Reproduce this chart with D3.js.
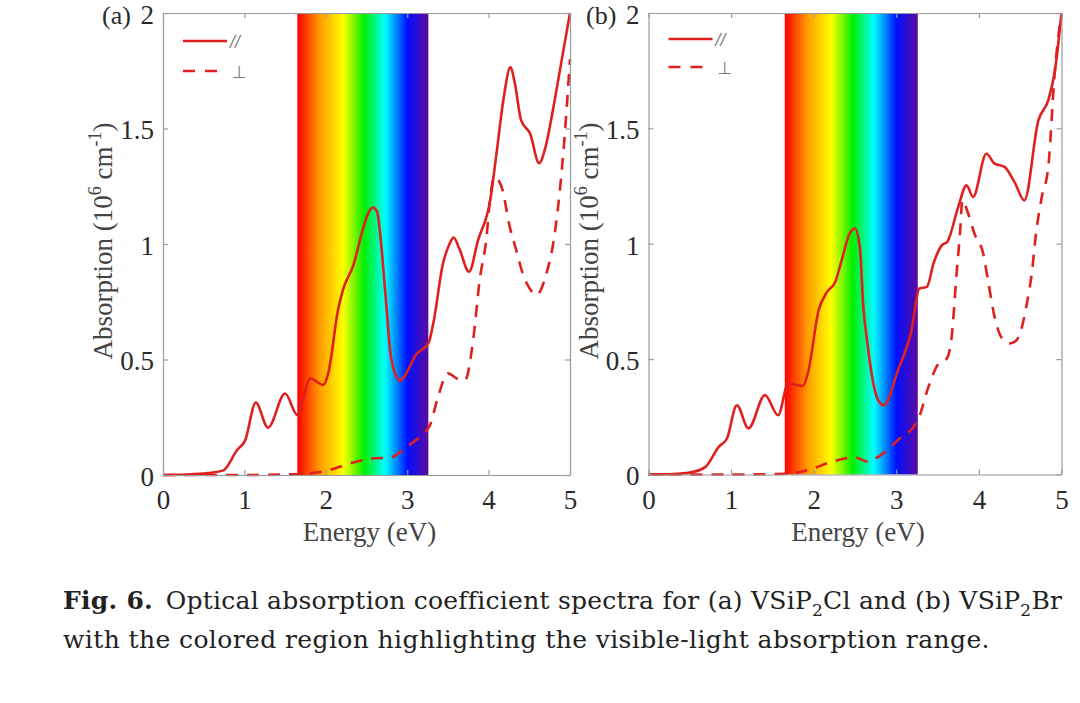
<!DOCTYPE html>
<html>
<head>
<meta charset="utf-8">
<script src="https://cdn.jsdelivr.net/npm/d3@7"></script>
<style>
  body { margin: 0; background: #fff; }
  svg { display: block; }
</style>
</head>
<body>
<svg id="fig" width="1080" height="703"></svg>
<script>
// ---- data ----
const xTicks = [0, 1, 2, 3, 4, 5];
const yTicks = [0, 0.5, 1, 1.5, 2];
const visibleRange = [1.65, 3.26];

// (a) VSiP2Cl
const energyParA = [0, 0.3, 0.55, 0.74, 0.91, 1.01, 1.14, 1.29, 1.50, 1.65, 1.81, 1.97, 2.03, 2.15, 2.21, 2.34, 2.46, 2.53, 2.58, 2.63, 2.68, 2.74, 2.79, 2.85, 2.91, 3.12, 3.26, 3.32, 3.44, 3.52, 3.57, 3.64, 3.76, 3.87, 4.02, 4.10, 4.18, 4.27, 4.32, 4.40, 4.51, 4.62, 4.70, 4.79, 4.90, 5.0];
const absParA    = [0, 0.002, 0.008, 0.02, 0.108, 0.15, 0.314, 0.205, 0.353, 0.26, 0.418, 0.39, 0.44, 0.714, 0.80, 0.91, 1.07, 1.14, 1.158, 1.14, 1.0, 0.75, 0.54, 0.44, 0.41, 0.526, 0.57, 0.656, 0.916, 1.0, 1.028, 0.98, 0.88, 1.016, 1.19, 1.40, 1.62, 1.766, 1.70, 1.535, 1.478, 1.35, 1.42, 1.58, 1.80, 2.0];
const energyPerpA = [0, 0.5, 1.0, 1.6, 1.97, 2.30, 2.58, 2.79, 2.99, 3.20, 3.28, 3.38, 3.50, 3.61, 3.71, 3.81, 3.89, 3.97, 4.02, 4.07, 4.16, 4.26, 4.34, 4.42, 4.50, 4.59, 4.71, 4.80, 4.92, 5.0];
const absPerpA    = [0, 0, 0, 0.003, 0.015, 0.05, 0.072, 0.075, 0.122, 0.18, 0.216, 0.34, 0.44, 0.418, 0.41, 0.584, 0.843, 1.016, 1.2, 1.29, 1.247, 1.074, 0.973, 0.872, 0.81, 0.78, 0.872, 1.016, 1.405, 1.80];

// (b) VSiP2Br
const energyParB = [0, 0.3, 0.5, 0.69, 0.85, 0.95, 1.07, 1.21, 1.41, 1.57, 1.69, 1.87, 1.93, 2.06, 2.16, 2.26, 2.34, 2.43, 2.50, 2.56, 2.60, 2.65, 2.70, 2.77, 2.85, 3.02, 3.18, 3.28, 3.37, 3.45, 3.55, 3.62, 3.75, 3.85, 3.93, 4.09, 4.19, 4.31, 4.43, 4.55, 4.72, 4.84, 4.92, 5.0];
const absParB    = [0, 0.002, 0.008, 0.033, 0.12, 0.156, 0.30, 0.20, 0.344, 0.257, 0.394, 0.384, 0.44, 0.712, 0.79, 0.834, 0.93, 1.04, 1.066, 0.98, 0.73, 0.57, 0.44, 0.33, 0.30, 0.452, 0.618, 0.806, 0.813, 0.914, 0.993, 1.01, 1.16, 1.253, 1.203, 1.39, 1.347, 1.333, 1.268, 1.188, 1.535, 1.622, 1.75, 2.0];
const energyPerpB = [0, 0.5, 1.0, 1.65, 1.93, 2.22, 2.50, 2.66, 2.78, 3.02, 3.26, 3.39, 3.51, 3.61, 3.67, 3.73, 3.77, 3.80, 3.87, 3.95, 4.05, 4.12, 4.19, 4.27, 4.37, 4.45, 4.51, 4.58, 4.64, 4.69, 4.76, 4.84, 4.92, 4.98];
const absPerpB    = [0, 0, 0, 0.003, 0.019, 0.055, 0.074, 0.055, 0.076, 0.149, 0.235, 0.38, 0.48, 0.502, 0.596, 0.871, 1.04, 1.189, 1.131, 1.04, 0.96, 0.82, 0.683, 0.596, 0.568, 0.58, 0.625, 0.74, 0.871, 1.04, 1.2, 1.333, 1.752, 1.95];

const lineColor = '#e0201e';
const axisColor = '#9a9a9a';
const textColor = '#2a2a2a';
const serif = '"Liberation Serif", "Times New Roman", serif';

const svg = d3.select('#fig');

// rainbow gradient for the visible window
const defs = svg.append('defs');
const grad = defs.append('linearGradient')
    .attr('id', 'rainbow')
    .attr('x1', '0%').attr('x2', '100%')
    .attr('y1', '0%').attr('y2', '0%');
[
  [0, '#ff0000'], [0.17, '#ff9a00'], [0.35, '#ffff00'], [0.51, '#00f000'],
  [0.67, '#00ffff'], [0.84, '#0010ff'], [1, '#5c0aa0']
].forEach(([o, c]) => grad.append('stop').attr('offset', o).attr('stop-color', c));

function drawPanel(cfg) {
    const x = d3.scaleLinear().domain([0, 5]).range([cfg.left, cfg.right]);
    const y = d3.scaleLinear().domain([0, 2]).range([cfg.bottom, cfg.top]);
    const g = svg.append('g');

    // visible-light band
    g.append('rect')
        .attr('x', x(visibleRange[0]))
        .attr('y', y(2))
        .attr('width', x(visibleRange[1]) - x(visibleRange[0]))
        .attr('height', y(0) - y(2))
        .attr('fill', 'url(#rainbow)');

    const line = d3.line()
        .x(d => x(d[0]))
        .y(d => y(d[1]))
        .curve(d3.curveMonotoneX);

    g.append('path')
        .datum(d3.zip(cfg.ePerp, cfg.aPerp))
        .attr('d', line)
        .attr('fill', 'none')
        .attr('stroke', lineColor)
        .attr('stroke-width', 2.6)
        .attr('stroke-dasharray', '12,9');

    g.append('path')
        .datum(d3.zip(cfg.ePar, cfg.aPar))
        .attr('d', line)
        .attr('fill', 'none')
        .attr('stroke', lineColor)
        .attr('stroke-width', 2.6);

    // box axes, ticks pointing in on all four sides
    const ax = (gen, tx, ty) => g.append('g')
        .attr('transform', `translate(${tx},${ty})`)
        .call(gen);

    const bottom = ax(d3.axisBottom(x).tickValues(xTicks).tickSizeInner(-5).tickSizeOuter(0).tickPadding(15).tickFormat(d3.format('d')), 0, cfg.bottom);
    const top = ax(d3.axisTop(x).tickValues(xTicks).tickSizeInner(-5).tickSizeOuter(0).tickFormat(''), 0, cfg.top);
    const left = ax(d3.axisLeft(y).tickValues(yTicks).tickSizeInner(-5).tickSizeOuter(0).tickPadding(9).tickFormat(d => d === 0 ? '0' : d3.format('~g')(d)), cfg.left, 0);
    const right = ax(d3.axisRight(y).tickValues(yTicks).tickSizeInner(-5).tickSizeOuter(0).tickFormat(''), cfg.right, 0);

    [bottom, top, left, right].forEach(a => {
        a.select('.domain').attr('stroke', axisColor).attr('stroke-width', 1.2);
        a.selectAll('.tick line').attr('stroke', axisColor).attr('stroke-width', 1.2);
        a.selectAll('.tick text')
            .attr('fill', textColor)
            .style('font-family', serif)
            .style('font-size', '27px');
    });
    left.selectAll('.tick text').attr('dy', '0.38em');

    // panel tag
    g.append('text')
        .attr('x', cfg.tagX)
        .attr('y', cfg.top + 11)
        .style('font-family', serif)
        .style('font-size', '26px')
        .attr('fill', textColor)
        .text(cfg.tag);

    // x label
    g.append('text')
        .attr('x', (cfg.left + cfg.right) / 2 + 3)
        .attr('y', 541)
        .attr('text-anchor', 'middle')
        .style('font-family', serif)
        .style('font-size', '27px')
        .attr('fill', '#444')
        .text('Energy (eV)');

    // y label with superscripts
    const yl = g.append('text')
        .attr('transform', `translate(${cfg.ylabX},241) rotate(-90)`)
        .attr('text-anchor', 'middle')
        .style('font-family', serif)
        .style('font-size', '27px')
        .attr('fill', '#444');
    yl.append('tspan').text('Absorption (10');
    yl.append('tspan').attr('dy', -11).style('font-size', '18px').text('6');
    yl.append('tspan').attr('dy', 11).text(' cm');
    yl.append('tspan').attr('dy', -11).style('font-size', '18px').text('-1');
    yl.append('tspan').attr('dy', 11).text(')');

    // legend
    const lg = g.append('g').attr('transform', `translate(${cfg.left + 20},0)`);
    lg.append('line').attr('x1', 0).attr('x2', 44).attr('y1', cfg.legY1).attr('y2', cfg.legY1)
        .attr('stroke', lineColor).attr('stroke-width', 2.6);
    lg.append('line').attr('x1', 0).attr('x2', 44).attr('y1', cfg.legY2).attr('y2', cfg.legY2)
        .attr('stroke', lineColor).attr('stroke-width', 2.6).attr('stroke-dasharray', '12,10');
    lg.append('text').attr('x', 47).attr('y', cfg.legY1 + 6)
        .style('font-family', '"DejaVu Sans", sans-serif').style('font-size', '15px')
        .style('font-style', 'italic').attr('fill', '#777').text('//');
    lg.append('text').attr('x', 49).attr('y', cfg.legY2 + 7)
        .style('font-family', '"DejaVu Sans", sans-serif').style('font-size', '17px')
        .attr('fill', '#777').text('\u22A5');
}

drawPanel({
    left: 163, right: 570, top: 13, bottom: 475,
    tag: '(a)', tagX: 102, ylabX: 112, legY1: 41, legY2: 71,
    ePar: energyParA, aPar: absParA, ePerp: energyPerpA, aPerp: absPerpA
});
drawPanel({
    left: 648.5, right: 1061.5, top: 13, bottom: 474.5,
    tag: '(b)', tagX: 586, ylabX: 598, legY1: 39, legY2: 67,
    ePar: energyParB, aPar: absParB, ePerp: energyPerpB, aPerp: absPerpB
});

// caption
const capFont = '"DejaVu Serif", serif';
const cap1 = svg.append('text').attr('x', 63).attr('y', 609)
    .style('font-family', capFont).style('font-size', '25px')
    .style('letter-spacing', '0.25px').attr('fill', '#222');
cap1.append('tspan').style('font-weight', 'bold').text('Fig. 6.');
cap1.append('tspan').text('\u2002Optical absorption coefficient spectra for (a) VSiP');
cap1.append('tspan').attr('dy', 7).style('font-size', '17px').text('2');
cap1.append('tspan').attr('dy', -7).text('Cl and (b) VSiP');
cap1.append('tspan').attr('dy', 7).style('font-size', '17px').text('2');
cap1.append('tspan').attr('dy', -7).text('Br');

svg.append('text').attr('x', 63).attr('y', 648)
    .style('font-family', capFont).style('font-size', '25px')
    .style('letter-spacing', '0.4px').attr('fill', '#222')
    .text('with the colored region highlighting the visible-light absorption range.');
</script>
</body>
</html>
